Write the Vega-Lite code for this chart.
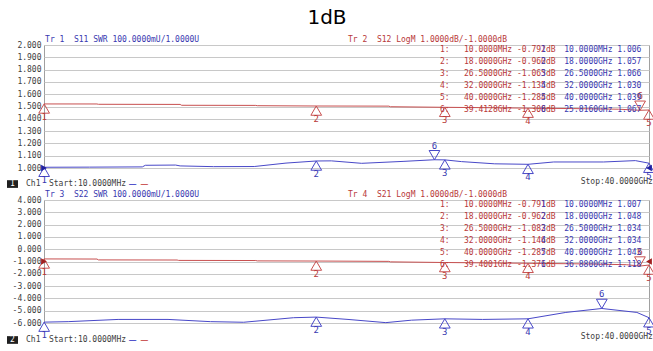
{
  "$schema": "https://vega.github.io/schema/vega-lite/v6.json",
  "padding": {"left": 6, "top": 7, "right": 0, "bottom": 0},
  "background": "#ffffff",
  "bounds": "flush",
  "spacing": 32,
  "datasets": {
    "s11": [
      {"f": 0.01, "swr": 1.006}, {"f": 3, "swr": 1.007}, {"f": 6.5, "swr": 1.009}, {"f": 6.7, "swr": 1.022},
      {"f": 8.7, "swr": 1.024}, {"f": 9.0, "swr": 1.017}, {"f": 11.2, "swr": 1.011}, {"f": 13.9, "swr": 1.012},
      {"f": 16, "swr": 1.040}, {"f": 18, "swr": 1.057}, {"f": 19, "swr": 1.058}, {"f": 21, "swr": 1.038},
      {"f": 23.8, "swr": 1.054}, {"f": 25.8, "swr": 1.067}, {"f": 26.5, "swr": 1.066}, {"f": 27.6, "swr": 1.052},
      {"f": 29.8, "swr": 1.034}, {"f": 32, "swr": 1.030}, {"f": 33.7, "swr": 1.049}, {"f": 37, "swr": 1.049},
      {"f": 39.1, "swr": 1.060}, {"f": 40, "swr": 1.039}
    ],
    "s12": [
      {"f": 0.01, "db": -0.792}, {"f": 3.5, "db": -0.795}, {"f": 3.6, "db": -0.82}, {"f": 9.0, "db": -0.83},
      {"f": 9.1, "db": -0.90}, {"f": 14.0, "db": -0.91}, {"f": 14.1, "db": -0.935}, {"f": 18, "db": -0.960},
      {"f": 22.8, "db": -0.97}, {"f": 22.9, "db": -1.02}, {"f": 26.5, "db": -1.065}, {"f": 29.5, "db": -1.10},
      {"f": 32, "db": -1.135}, {"f": 35, "db": -1.17}, {"f": 38, "db": -1.22}, {"f": 39.41, "db": -1.308},
      {"f": 40, "db": -1.284}
    ],
    "s22": [
      {"f": 0.01, "swr": 1.007}, {"f": 1.6, "swr": 1.011}, {"f": 4.9, "swr": 1.029}, {"f": 8.2, "swr": 1.029},
      {"f": 11.0, "swr": 1.011}, {"f": 13.2, "swr": 1.006}, {"f": 16.5, "swr": 1.043}, {"f": 18, "swr": 1.048},
      {"f": 20.1, "swr": 1.029}, {"f": 22.6, "swr": 1.003}, {"f": 24.3, "swr": 1.023}, {"f": 26.5, "swr": 1.034},
      {"f": 29, "swr": 1.029}, {"f": 32, "swr": 1.034}, {"f": 34.5, "swr": 1.086}, {"f": 36.88, "swr": 1.118},
      {"f": 39.2, "swr": 1.086}, {"f": 40, "swr": 1.043}
    ],
    "s21": [
      {"f": 0.01, "db": -0.791}, {"f": 3.5, "db": -0.80}, {"f": 3.6, "db": -0.87}, {"f": 8.8, "db": -0.88},
      {"f": 8.9, "db": -0.91}, {"f": 14.0, "db": -0.92}, {"f": 14.1, "db": -0.95}, {"f": 18, "db": -0.962},
      {"f": 22.8, "db": -0.99}, {"f": 22.9, "db": -1.03}, {"f": 26.5, "db": -1.082}, {"f": 32, "db": -1.146},
      {"f": 36, "db": -1.20}, {"f": 38.5, "db": -1.26}, {"f": 39.4, "db": -1.371}, {"f": 40, "db": -1.287}
    ],
    "m_s11": [
      {"marker": 1, "f": 0.01, "swr": 1.006, "readout": "10.0000MHz 1.006"},
      {"marker": 2, "f": 18, "swr": 1.057, "readout": "18.0000GHz 1.057"},
      {"marker": 3, "f": 26.5, "swr": 1.066, "readout": "26.5000GHz 1.066"},
      {"marker": 4, "f": 32, "swr": 1.030, "readout": "32.0000GHz 1.030"},
      {"marker": 5, "f": 40, "swr": 1.039, "readout": "40.0000GHz 1.039"},
      {"marker": 6, "f": 25.816, "swr": 1.067, "readout": "25.8160GHz 1.067"}
    ],
    "m_s12": [
      {"marker": 1, "tag": "1:", "f": 0.01, "db": -0.792, "readout": "10.0000MHz -0.792dB"},
      {"marker": 2, "tag": "2:", "f": 18, "db": -0.960, "readout": "18.0000GHz -0.960dB"},
      {"marker": 3, "tag": "3:", "f": 26.5, "db": -1.065, "readout": "26.5000GHz -1.065dB"},
      {"marker": 4, "tag": "4:", "f": 32, "db": -1.135, "readout": "32.0000GHz -1.135dB"},
      {"marker": 5, "tag": "5:", "f": 40, "db": -1.284, "readout": "40.0000GHz -1.284dB"},
      {"marker": 6, "tag": "6:", "f": 39.4128, "db": -1.308, "readout": "39.4128GHz -1.308dB"}
    ],
    "m_s22": [
      {"marker": 1, "f": 0.01, "swr": 1.007, "readout": "10.0000MHz 1.007"},
      {"marker": 2, "f": 18, "swr": 1.048, "readout": "18.0000GHz 1.048"},
      {"marker": 3, "f": 26.5, "swr": 1.034, "readout": "26.5000GHz 1.034"},
      {"marker": 4, "f": 32, "swr": 1.034, "readout": "32.0000GHz 1.034"},
      {"marker": 5, "f": 40, "swr": 1.043, "readout": "40.0000GHz 1.043"},
      {"marker": 6, "f": 36.88, "swr": 1.118, "readout": "36.8800GHz 1.118"}
    ],
    "m_s21": [
      {"marker": 1, "tag": "1:", "f": 0.01, "db": -0.791, "readout": "10.0000MHz -0.791dB"},
      {"marker": 2, "tag": "2:", "f": 18, "db": -0.962, "readout": "18.0000GHz -0.962dB"},
      {"marker": 3, "tag": "3:", "f": 26.5, "db": -1.082, "readout": "26.5000GHz -1.082dB"},
      {"marker": 4, "tag": "4:", "f": 32, "db": -1.146, "readout": "32.0000GHz -1.146dB"},
      {"marker": 5, "tag": "5:", "f": 40, "db": -1.287, "readout": "40.0000GHz -1.287dB"},
      {"marker": 6, "tag": "6:", "f": 39.4001, "db": -1.371, "readout": "39.4001GHz -1.371dB"}
    ]
  },
  "vconcat": [
    {
      "width": 605,
      "height": 123,
      "title": {"text": "1dB", "font": "DejaVu Sans", "fontSize": 20, "fontWeight": "normal", "color": "#000000", "anchor": "middle", "frame": "group", "dx": -19.5, "offset": -8, "baseline": "alphabetic"},
      "resolve": {"scale": {"y": "independent"}},
      "layer": [
        {"data": {"name": "s11"}, "mark": {"type": "line", "color": "#4848c8", "strokeWidth": 1},
         "encoding": {
           "x": {"field": "f", "type": "quantitative", "scale": {"domain": [0, 40], "nice": false, "zero": false},
                 "axis": {"values": [0, 4, 8, 12, 16, 20, 24, 28, 32, 36, 40], "labels": false, "ticks": false, "domain": false, "grid": true, "title": null,
                          "gridWidth": {"condition": {"test": "datum.value == 8", "value": 3}, "value": 1},
                          "gridColor": {"condition": {"test": "datum.value == 8", "value": "#dcdcdc"}, "value": "#c8c8c8"}}},
           "y": {"field": "swr", "type": "quantitative", "scale": {"domain": [1, 2], "nice": false, "zero": false},
                 "axis": {"values": [1, 1.1, 1.2, 1.3, 1.4, 1.5, 1.6, 1.7, 1.8, 1.9, 2], "format": ".3f", "ticks": false, "domain": false, "grid": true, "title": null, "labelPadding": 3}}}},
        {"data": {"name": "s12"}, "mark": {"type": "line", "color": "#c85050", "strokeWidth": 1},
         "encoding": {
           "x": {"field": "f", "type": "quantitative", "scale": {"domain": [0, 40], "nice": false, "zero": false}, "axis": null},
           "y": {"field": "db", "type": "quantitative", "scale": {"domain": [-6, 4], "nice": false, "zero": false}, "axis": null}}},
        {"data": {"name": "m_s11"}, "transform": [{"filter": "datum.marker < 6"}],
         "mark": {"type": "point", "shape": "triangle-up", "filled": false, "stroke": "#4848c8", "strokeWidth": 1, "size": 115, "yOffset": 4.6, "opacity": 1},
         "encoding": {
           "x": {"field": "f", "type": "quantitative", "scale": {"domain": [0, 40], "nice": false, "zero": false}, "axis": null},
           "y": {"field": "swr", "type": "quantitative", "scale": {"domain": [1, 2], "nice": false, "zero": false}, "axis": null}}},
        {"data": {"name": "m_s11"}, "transform": [{"filter": "datum.marker < 6"}],
         "mark": {"type": "text", "color": "#3838b0", "fontSize": 9, "dy": 13, "align": "center", "baseline": "middle"},
         "encoding": {
           "x": {"field": "f", "type": "quantitative", "scale": {"domain": [0, 40], "nice": false, "zero": false}, "axis": null},
           "y": {"field": "swr", "type": "quantitative", "scale": {"domain": [1, 2], "nice": false, "zero": false}, "axis": null},
           "text": {"field": "marker", "type": "quantitative"}}},
        {"data": {"name": "m_s11"}, "transform": [{"filter": "datum.marker == 6"}],
         "mark": {"type": "point", "shape": "triangle-down", "filled": false, "stroke": "#4848c8", "strokeWidth": 1, "size": 115, "yOffset": -4.6, "opacity": 1},
         "encoding": {
           "x": {"field": "f", "type": "quantitative", "scale": {"domain": [0, 40], "nice": false, "zero": false}, "axis": null},
           "y": {"field": "swr", "type": "quantitative", "scale": {"domain": [1, 2], "nice": false, "zero": false}, "axis": null}}},
        {"data": {"name": "m_s11"}, "transform": [{"filter": "datum.marker == 6"}],
         "mark": {"type": "text", "color": "#3838b0", "fontSize": 9, "dy": -14, "align": "center", "baseline": "middle"},
         "encoding": {
           "x": {"field": "f", "type": "quantitative", "scale": {"domain": [0, 40], "nice": false, "zero": false}, "axis": null},
           "y": {"field": "swr", "type": "quantitative", "scale": {"domain": [1, 2], "nice": false, "zero": false}, "axis": null},
           "text": {"field": "marker", "type": "quantitative"}}},
        {"data": {"name": "m_s12"}, "transform": [{"filter": "datum.marker < 6"}],
         "mark": {"type": "point", "shape": "triangle-up", "filled": false, "stroke": "#c85050", "strokeWidth": 1, "size": 115, "yOffset": 4.6, "opacity": 1},
         "encoding": {
           "x": {"field": "f", "type": "quantitative", "scale": {"domain": [0, 40], "nice": false, "zero": false}, "axis": null},
           "y": {"field": "db", "type": "quantitative", "scale": {"domain": [-6, 4], "nice": false, "zero": false}, "axis": null}}},
        {"data": {"name": "m_s12"}, "transform": [{"filter": "datum.marker < 6"}],
         "mark": {"type": "text", "color": "#b83838", "fontSize": 9, "dy": 13, "align": "center", "baseline": "middle"},
         "encoding": {
           "x": {"field": "f", "type": "quantitative", "scale": {"domain": [0, 40], "nice": false, "zero": false}, "axis": null},
           "y": {"field": "db", "type": "quantitative", "scale": {"domain": [-6, 4], "nice": false, "zero": false}, "axis": null},
           "text": {"field": "marker", "type": "quantitative"}}},
        {"data": {"name": "m_s12"}, "transform": [{"filter": "datum.marker == 6"}],
         "mark": {"type": "point", "shape": "triangle-down", "filled": false, "stroke": "#c85050", "strokeWidth": 1, "size": 115, "yOffset": -4.6, "opacity": 1},
         "encoding": {
           "x": {"field": "f", "type": "quantitative", "scale": {"domain": [0, 40], "nice": false, "zero": false}, "axis": null},
           "y": {"field": "db", "type": "quantitative", "scale": {"domain": [-6, 4], "nice": false, "zero": false}, "axis": null}}},
        {"data": {"name": "m_s12"}, "transform": [{"filter": "datum.marker == 6"}],
         "mark": {"type": "text", "color": "#b83838", "fontSize": 9, "dy": -14, "align": "center", "baseline": "middle"},
         "encoding": {
           "x": {"field": "f", "type": "quantitative", "scale": {"domain": [0, 40], "nice": false, "zero": false}, "axis": null},
           "y": {"field": "db", "type": "quantitative", "scale": {"domain": [-6, 4], "nice": false, "zero": false}, "axis": null},
           "text": {"field": "marker", "type": "quantitative"}}},
        {"data": {"values": [{}]},
         "mark": {"type": "point", "shape": "triangle-right", "filled": true, "color": "#2020a0", "size": 45, "opacity": 1},
         "encoding": {
           "x": {"datum": 0, "type": "quantitative", "scale": {"domain": [0, 40], "nice": false, "zero": false}, "axis": null},
           "y": {"datum": 1, "type": "quantitative", "scale": {"domain": [1, 2], "nice": false, "zero": false}, "axis": null}}},
        {"data": {"values": [{}]},
         "mark": {"type": "point", "shape": "triangle-left", "filled": true, "color": "#2020a0", "size": 45, "opacity": 1},
         "encoding": {
           "x": {"datum": 40, "type": "quantitative", "scale": {"domain": [0, 40], "nice": false, "zero": false}, "axis": null},
           "y": {"datum": 1, "type": "quantitative", "scale": {"domain": [1, 2], "nice": false, "zero": false}, "axis": null}}},
        {"data": {"name": "m_s12"},
         "mark": {"type": "text", "color": "#b83838", "align": "left", "baseline": "middle"},
         "encoding": {
           "x": {"datum": 26.18, "type": "quantitative", "scale": {"domain": [0, 40], "nice": false, "zero": false}, "axis": null},
           "y": {"field": "marker", "type": "quantitative", "scale": {"domain": [0.5833, 10.8333], "reverse": true, "nice": false, "zero": false}, "axis": null},
           "text": {"field": "tag", "type": "nominal"}}},
        {"data": {"name": "m_s12"},
         "mark": {"type": "text", "color": "#b83838", "align": "left", "baseline": "middle"},
         "encoding": {
           "x": {"datum": 27.77, "type": "quantitative", "scale": {"domain": [0, 40], "nice": false, "zero": false}, "axis": null},
           "y": {"field": "marker", "type": "quantitative", "scale": {"domain": [0.5833, 10.8333], "reverse": true, "nice": false, "zero": false}, "axis": null},
           "text": {"field": "readout", "type": "nominal"}}},
        {"data": {"name": "m_s11"},
         "mark": {"type": "text", "color": "#3838b0", "align": "left", "baseline": "middle"},
         "encoding": {
           "x": {"datum": 32.86, "type": "quantitative", "scale": {"domain": [0, 40], "nice": false, "zero": false}, "axis": null},
           "y": {"field": "marker", "type": "quantitative", "scale": {"domain": [0.5833, 10.8333], "reverse": true, "nice": false, "zero": false}, "axis": null},
           "text": {"field": "marker", "type": "quantitative"}}},
        {"data": {"name": "m_s11"},
         "mark": {"type": "text", "color": "#3838b0", "align": "left", "baseline": "middle"},
         "encoding": {
           "x": {"datum": 34.4, "type": "quantitative", "scale": {"domain": [0, 40], "nice": false, "zero": false}, "axis": null},
           "y": {"field": "marker", "type": "quantitative", "scale": {"domain": [0.5833, 10.8333], "reverse": true, "nice": false, "zero": false}, "axis": null},
           "text": {"field": "readout", "type": "nominal"}}},
        {"data": {"values": [{}]},
         "mark": {"type": "text", "color": "#3838b0", "align": "left", "baseline": "middle"},
         "encoding": {
           "x": {"datum": 0.07, "type": "quantitative", "scale": {"domain": [0, 40], "nice": false, "zero": false}, "axis": null},
           "y": {"datum": 0.125, "type": "quantitative", "scale": {"domain": [0.5833, 10.8333], "reverse": true, "nice": false, "zero": false}, "axis": null},
           "text": {"value": "Tr 1\u00a0 S11 SWR 100.0000mU/1.0000U"}}},
        {"data": {"values": [{}]},
         "mark": {"type": "text", "color": "#b83838", "align": "left", "baseline": "middle"},
         "encoding": {
           "x": {"datum": 20.1, "type": "quantitative", "scale": {"domain": [0, 40], "nice": false, "zero": false}, "axis": null},
           "y": {"datum": 0.125, "type": "quantitative", "scale": {"domain": [0.5833, 10.8333], "reverse": true, "nice": false, "zero": false}, "axis": null},
           "text": {"value": "Tr 2\u00a0 S12 LogM 1.0000dB/-1.0000dB"}}},
        {"data": {"values": [{}]},
         "mark": {"type": "point", "shape": "M-1,-0.7L1,-0.7L1,0.7L-1,0.7Z", "filled": true, "color": "#202020", "size": 121, "opacity": 1},
         "encoding": {
           "x": {"datum": -2.083, "type": "quantitative", "scale": {"domain": [0, 40], "nice": false, "zero": false}, "axis": null},
           "y": {"datum": 12.17, "type": "quantitative", "scale": {"domain": [0.5833, 10.8333], "reverse": true, "nice": false, "zero": false}, "axis": null}}},
        {"data": {"values": [{}]},
         "mark": {"type": "text", "color": "#ffffff", "align": "center", "baseline": "middle"},
         "encoding": {
           "x": {"datum": -2.083, "type": "quantitative", "scale": {"domain": [0, 40], "nice": false, "zero": false}, "axis": null},
           "y": {"datum": 12.17, "type": "quantitative", "scale": {"domain": [0.5833, 10.8333], "reverse": true, "nice": false, "zero": false}, "axis": null},
           "text": {"value": "1"}}},
        {"data": {"values": [{}]},
         "mark": {"type": "text", "color": "#404040", "align": "left", "baseline": "middle"},
         "encoding": {
           "x": {"datum": -1.19, "type": "quantitative", "scale": {"domain": [0, 40], "nice": false, "zero": false}, "axis": null},
           "y": {"datum": 12.17, "type": "quantitative", "scale": {"domain": [0.5833, 10.8333], "reverse": true, "nice": false, "zero": false}, "axis": null},
           "text": {"value": "Ch1"}}},
        {"data": {"values": [{}]},
         "mark": {"type": "text", "color": "#404040", "align": "left", "baseline": "middle"},
         "encoding": {
           "x": {"datum": 0.33, "type": "quantitative", "scale": {"domain": [0, 40], "nice": false, "zero": false}, "axis": null},
           "y": {"datum": 12.17, "type": "quantitative", "scale": {"domain": [0.5833, 10.8333], "reverse": true, "nice": false, "zero": false}, "axis": null},
           "text": {"value": "Start:10.0000MHz"}}},
        {"data": {"values": [{}]},
         "mark": {"type": "text", "color": "#4848c8", "align": "left", "baseline": "middle", "fontSize": 12},
         "encoding": {
           "x": {"datum": 5.62, "type": "quantitative", "scale": {"domain": [0, 40], "nice": false, "zero": false}, "axis": null},
           "y": {"datum": 12.17, "type": "quantitative", "scale": {"domain": [0.5833, 10.8333], "reverse": true, "nice": false, "zero": false}, "axis": null},
           "text": {"value": "—"}}},
        {"data": {"values": [{}]},
         "mark": {"type": "text", "color": "#c85050", "align": "left", "baseline": "middle", "fontSize": 12},
         "encoding": {
           "x": {"datum": 6.4, "type": "quantitative", "scale": {"domain": [0, 40], "nice": false, "zero": false}, "axis": null},
           "y": {"datum": 12.17, "type": "quantitative", "scale": {"domain": [0.5833, 10.8333], "reverse": true, "nice": false, "zero": false}, "axis": null},
           "text": {"value": "—"}}},
        {"data": {"values": [{}]},
         "mark": {"type": "text", "color": "#404040", "align": "right", "baseline": "middle"},
         "encoding": {
           "x": {"datum": 40.26, "type": "quantitative", "scale": {"domain": [0, 40], "nice": false, "zero": false}, "axis": null},
           "y": {"datum": 12.0, "type": "quantitative", "scale": {"domain": [0.5833, 10.8333], "reverse": true, "nice": false, "zero": false}, "axis": null},
           "text": {"value": "Stop:40.0000GHz"}}}
      ]
    },
    {
      "width": 605,
      "height": 123,
      "resolve": {"scale": {"y": "independent"}},
      "layer": [
        {"data": {"name": "s22"}, "mark": {"type": "line", "color": "#4848c8", "strokeWidth": 1},
         "encoding": {
           "x": {"field": "f", "type": "quantitative", "scale": {"domain": [0, 40], "nice": false, "zero": false},
                 "axis": {"values": [0, 4, 8, 12, 16, 20, 24, 28, 32, 36, 40], "labels": false, "ticks": false, "domain": false, "grid": true, "title": null,
                          "gridWidth": {"condition": {"test": "datum.value == 8", "value": 3}, "value": 1},
                          "gridColor": {"condition": {"test": "datum.value == 8", "value": "#dcdcdc"}, "value": "#c8c8c8"}}},
           "y": {"field": "swr", "type": "quantitative", "scale": {"domain": [1, 2], "nice": false, "zero": false}, "axis": null}}},
        {"data": {"name": "s21"}, "mark": {"type": "line", "color": "#c85050", "strokeWidth": 1},
         "encoding": {
           "x": {"field": "f", "type": "quantitative", "scale": {"domain": [0, 40], "nice": false, "zero": false}, "axis": null},
           "y": {"field": "db", "type": "quantitative", "scale": {"domain": [-6, 4], "nice": false, "zero": false},
                 "axis": {"values": [-6, -5, -4, -3, -2, -1, 0, 1, 2, 3, 4], "format": ".3f", "ticks": false, "domain": false, "grid": true, "title": null, "labelPadding": 3}}}},
        {"data": {"name": "m_s22"}, "transform": [{"filter": "datum.marker < 6"}],
         "mark": {"type": "point", "shape": "triangle-up", "filled": false, "stroke": "#4848c8", "strokeWidth": 1, "size": 115, "yOffset": 4.6, "opacity": 1},
         "encoding": {
           "x": {"field": "f", "type": "quantitative", "scale": {"domain": [0, 40], "nice": false, "zero": false}, "axis": null},
           "y": {"field": "swr", "type": "quantitative", "scale": {"domain": [1, 2], "nice": false, "zero": false}, "axis": null}}},
        {"data": {"name": "m_s22"}, "transform": [{"filter": "datum.marker < 6"}],
         "mark": {"type": "text", "color": "#3838b0", "fontSize": 9, "dy": 13, "align": "center", "baseline": "middle"},
         "encoding": {
           "x": {"field": "f", "type": "quantitative", "scale": {"domain": [0, 40], "nice": false, "zero": false}, "axis": null},
           "y": {"field": "swr", "type": "quantitative", "scale": {"domain": [1, 2], "nice": false, "zero": false}, "axis": null},
           "text": {"field": "marker", "type": "quantitative"}}},
        {"data": {"name": "m_s22"}, "transform": [{"filter": "datum.marker == 6"}],
         "mark": {"type": "point", "shape": "triangle-down", "filled": false, "stroke": "#4848c8", "strokeWidth": 1, "size": 115, "yOffset": -4.6, "opacity": 1},
         "encoding": {
           "x": {"field": "f", "type": "quantitative", "scale": {"domain": [0, 40], "nice": false, "zero": false}, "axis": null},
           "y": {"field": "swr", "type": "quantitative", "scale": {"domain": [1, 2], "nice": false, "zero": false}, "axis": null}}},
        {"data": {"name": "m_s22"}, "transform": [{"filter": "datum.marker == 6"}],
         "mark": {"type": "text", "color": "#3838b0", "fontSize": 9, "dy": -14, "align": "center", "baseline": "middle"},
         "encoding": {
           "x": {"field": "f", "type": "quantitative", "scale": {"domain": [0, 40], "nice": false, "zero": false}, "axis": null},
           "y": {"field": "swr", "type": "quantitative", "scale": {"domain": [1, 2], "nice": false, "zero": false}, "axis": null},
           "text": {"field": "marker", "type": "quantitative"}}},
        {"data": {"name": "m_s21"}, "transform": [{"filter": "datum.marker < 6"}],
         "mark": {"type": "point", "shape": "triangle-up", "filled": false, "stroke": "#c85050", "strokeWidth": 1, "size": 115, "yOffset": 4.6, "opacity": 1},
         "encoding": {
           "x": {"field": "f", "type": "quantitative", "scale": {"domain": [0, 40], "nice": false, "zero": false}, "axis": null},
           "y": {"field": "db", "type": "quantitative", "scale": {"domain": [-6, 4], "nice": false, "zero": false}, "axis": null}}},
        {"data": {"name": "m_s21"}, "transform": [{"filter": "datum.marker < 6"}],
         "mark": {"type": "text", "color": "#b83838", "fontSize": 9, "dy": 13, "align": "center", "baseline": "middle"},
         "encoding": {
           "x": {"field": "f", "type": "quantitative", "scale": {"domain": [0, 40], "nice": false, "zero": false}, "axis": null},
           "y": {"field": "db", "type": "quantitative", "scale": {"domain": [-6, 4], "nice": false, "zero": false}, "axis": null},
           "text": {"field": "marker", "type": "quantitative"}}},
        {"data": {"name": "m_s21"}, "transform": [{"filter": "datum.marker == 6"}],
         "mark": {"type": "point", "shape": "triangle-down", "filled": false, "stroke": "#c85050", "strokeWidth": 1, "size": 115, "yOffset": -4.6, "opacity": 1},
         "encoding": {
           "x": {"field": "f", "type": "quantitative", "scale": {"domain": [0, 40], "nice": false, "zero": false}, "axis": null},
           "y": {"field": "db", "type": "quantitative", "scale": {"domain": [-6, 4], "nice": false, "zero": false}, "axis": null}}},
        {"data": {"name": "m_s21"}, "transform": [{"filter": "datum.marker == 6"}],
         "mark": {"type": "text", "color": "#b83838", "fontSize": 9, "dy": -14, "align": "center", "baseline": "middle"},
         "encoding": {
           "x": {"field": "f", "type": "quantitative", "scale": {"domain": [0, 40], "nice": false, "zero": false}, "axis": null},
           "y": {"field": "db", "type": "quantitative", "scale": {"domain": [-6, 4], "nice": false, "zero": false}, "axis": null},
           "text": {"field": "marker", "type": "quantitative"}}},
        {"data": {"values": [{}]},
         "mark": {"type": "point", "shape": "triangle-right", "filled": true, "color": "#a02020", "size": 45, "opacity": 1},
         "encoding": {
           "x": {"datum": 0, "type": "quantitative", "scale": {"domain": [0, 40], "nice": false, "zero": false}, "axis": null},
           "y": {"datum": -1, "type": "quantitative", "scale": {"domain": [-6, 4], "nice": false, "zero": false}, "axis": null}}},
        {"data": {"values": [{}]},
         "mark": {"type": "point", "shape": "triangle-left", "filled": true, "color": "#a02020", "size": 45, "opacity": 1},
         "encoding": {
           "x": {"datum": 40, "type": "quantitative", "scale": {"domain": [0, 40], "nice": false, "zero": false}, "axis": null},
           "y": {"datum": -1, "type": "quantitative", "scale": {"domain": [-6, 4], "nice": false, "zero": false}, "axis": null}}},
        {"data": {"name": "m_s21"},
         "mark": {"type": "text", "color": "#b83838", "align": "left", "baseline": "middle"},
         "encoding": {
           "x": {"datum": 26.18, "type": "quantitative", "scale": {"domain": [0, 40], "nice": false, "zero": false}, "axis": null},
           "y": {"field": "marker", "type": "quantitative", "scale": {"domain": [0.5833, 10.8333], "reverse": true, "nice": false, "zero": false}, "axis": null},
           "text": {"field": "tag", "type": "nominal"}}},
        {"data": {"name": "m_s21"},
         "mark": {"type": "text", "color": "#b83838", "align": "left", "baseline": "middle"},
         "encoding": {
           "x": {"datum": 27.77, "type": "quantitative", "scale": {"domain": [0, 40], "nice": false, "zero": false}, "axis": null},
           "y": {"field": "marker", "type": "quantitative", "scale": {"domain": [0.5833, 10.8333], "reverse": true, "nice": false, "zero": false}, "axis": null},
           "text": {"field": "readout", "type": "nominal"}}},
        {"data": {"name": "m_s22"},
         "mark": {"type": "text", "color": "#3838b0", "align": "left", "baseline": "middle"},
         "encoding": {
           "x": {"datum": 32.86, "type": "quantitative", "scale": {"domain": [0, 40], "nice": false, "zero": false}, "axis": null},
           "y": {"field": "marker", "type": "quantitative", "scale": {"domain": [0.5833, 10.8333], "reverse": true, "nice": false, "zero": false}, "axis": null},
           "text": {"field": "marker", "type": "quantitative"}}},
        {"data": {"name": "m_s22"},
         "mark": {"type": "text", "color": "#3838b0", "align": "left", "baseline": "middle"},
         "encoding": {
           "x": {"datum": 34.4, "type": "quantitative", "scale": {"domain": [0, 40], "nice": false, "zero": false}, "axis": null},
           "y": {"field": "marker", "type": "quantitative", "scale": {"domain": [0.5833, 10.8333], "reverse": true, "nice": false, "zero": false}, "axis": null},
           "text": {"field": "readout", "type": "nominal"}}},
        {"data": {"values": [{}]},
         "mark": {"type": "text", "color": "#3838b0", "align": "left", "baseline": "middle"},
         "encoding": {
           "x": {"datum": 0.07, "type": "quantitative", "scale": {"domain": [0, 40], "nice": false, "zero": false}, "axis": null},
           "y": {"datum": 0.125, "type": "quantitative", "scale": {"domain": [0.5833, 10.8333], "reverse": true, "nice": false, "zero": false}, "axis": null},
           "text": {"value": "Tr 3\u00a0 S22 SWR 100.0000mU/1.0000U"}}},
        {"data": {"values": [{}]},
         "mark": {"type": "text", "color": "#b83838", "align": "left", "baseline": "middle"},
         "encoding": {
           "x": {"datum": 20.1, "type": "quantitative", "scale": {"domain": [0, 40], "nice": false, "zero": false}, "axis": null},
           "y": {"datum": 0.125, "type": "quantitative", "scale": {"domain": [0.5833, 10.8333], "reverse": true, "nice": false, "zero": false}, "axis": null},
           "text": {"value": "Tr 4\u00a0 S21 LogM 1.0000dB/-1.0000dB"}}},
        {"data": {"values": [{}]},
         "mark": {"type": "point", "shape": "M-1,-0.7L1,-0.7L1,0.7L-1,0.7Z", "filled": true, "color": "#202020", "size": 121, "opacity": 1},
         "encoding": {
           "x": {"datum": -2.083, "type": "quantitative", "scale": {"domain": [0, 40], "nice": false, "zero": false}, "axis": null},
           "y": {"datum": 12.25, "type": "quantitative", "scale": {"domain": [0.5833, 10.8333], "reverse": true, "nice": false, "zero": false}, "axis": null}}},
        {"data": {"values": [{}]},
         "mark": {"type": "text", "color": "#ffffff", "align": "center", "baseline": "middle"},
         "encoding": {
           "x": {"datum": -2.083, "type": "quantitative", "scale": {"domain": [0, 40], "nice": false, "zero": false}, "axis": null},
           "y": {"datum": 12.25, "type": "quantitative", "scale": {"domain": [0.5833, 10.8333], "reverse": true, "nice": false, "zero": false}, "axis": null},
           "text": {"value": "2"}}},
        {"data": {"values": [{}]},
         "mark": {"type": "text", "color": "#404040", "align": "left", "baseline": "middle"},
         "encoding": {
           "x": {"datum": -1.19, "type": "quantitative", "scale": {"domain": [0, 40], "nice": false, "zero": false}, "axis": null},
           "y": {"datum": 12.25, "type": "quantitative", "scale": {"domain": [0.5833, 10.8333], "reverse": true, "nice": false, "zero": false}, "axis": null},
           "text": {"value": "Ch1"}}},
        {"data": {"values": [{}]},
         "mark": {"type": "text", "color": "#404040", "align": "left", "baseline": "middle"},
         "encoding": {
           "x": {"datum": 0.33, "type": "quantitative", "scale": {"domain": [0, 40], "nice": false, "zero": false}, "axis": null},
           "y": {"datum": 12.25, "type": "quantitative", "scale": {"domain": [0.5833, 10.8333], "reverse": true, "nice": false, "zero": false}, "axis": null},
           "text": {"value": "Start:10.0000MHz"}}},
        {"data": {"values": [{}]},
         "mark": {"type": "text", "color": "#4848c8", "align": "left", "baseline": "middle", "fontSize": 12},
         "encoding": {
           "x": {"datum": 5.62, "type": "quantitative", "scale": {"domain": [0, 40], "nice": false, "zero": false}, "axis": null},
           "y": {"datum": 12.25, "type": "quantitative", "scale": {"domain": [0.5833, 10.8333], "reverse": true, "nice": false, "zero": false}, "axis": null},
           "text": {"value": "—"}}},
        {"data": {"values": [{}]},
         "mark": {"type": "text", "color": "#c85050", "align": "left", "baseline": "middle", "fontSize": 12},
         "encoding": {
           "x": {"datum": 6.4, "type": "quantitative", "scale": {"domain": [0, 40], "nice": false, "zero": false}, "axis": null},
           "y": {"datum": 12.25, "type": "quantitative", "scale": {"domain": [0.5833, 10.8333], "reverse": true, "nice": false, "zero": false}, "axis": null},
           "text": {"value": "—"}}},
        {"data": {"values": [{}]},
         "mark": {"type": "text", "color": "#404040", "align": "right", "baseline": "middle"},
         "encoding": {
           "x": {"datum": 40.26, "type": "quantitative", "scale": {"domain": [0, 40], "nice": false, "zero": false}, "axis": null},
           "y": {"datum": 12.0, "type": "quantitative", "scale": {"domain": [0.5833, 10.8333], "reverse": true, "nice": false, "zero": false}, "axis": null},
           "text": {"value": "Stop:40.0000GHz"}}}
      ]
    }
  ],
  "config": {
    "view": {"stroke": "#a0a0a0", "strokeWidth": 1},
    "locale": {"number": {"decimal": ".", "thousands": ",", "grouping": [3], "currency": ["", ""], "minus": "-"}},
    "text": {"font": "DejaVu Sans Mono", "fontSize": 8},
    "axis": {"labelFont": "DejaVu Sans Mono", "labelFontSize": 8, "labelColor": "#404040", "gridColor": "#c8c8c8", "gridWidth": 1}
  }
}
